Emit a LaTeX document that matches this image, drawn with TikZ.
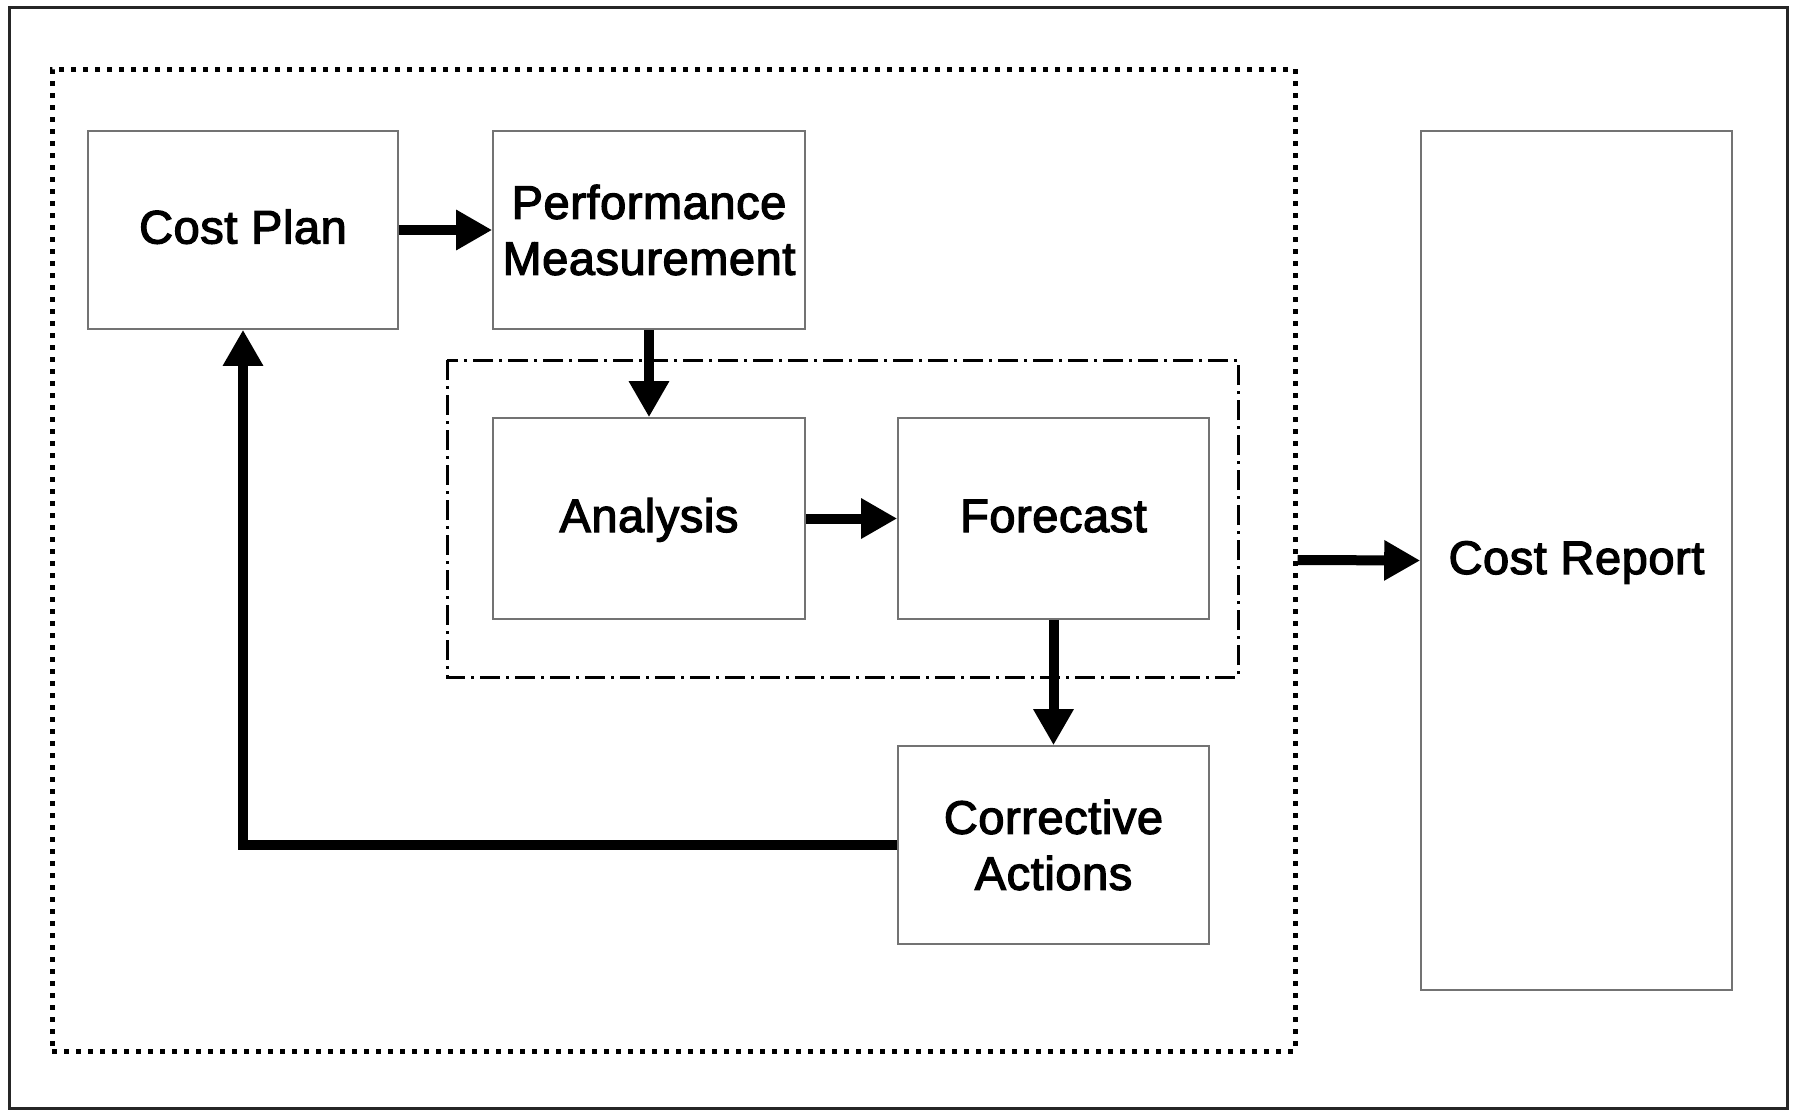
\documentclass[tikz,border=0pt]{standalone}
\usepackage{fontspec}
\newfontfamily\lblfont{Liberation Sans}[FakeBold=2.6,LetterSpace=1.2]
\usetikzlibrary{arrows.meta}
\tikzset{
  stepbox/.style={draw=black!55, line width=1.6pt, fill=white, inner sep=0pt,
    align=center, font=\lblfont\fontsize{47}{56}\selectfont},
  oneline/.style={text height=27pt, text depth=0pt},
  arr/.style={line width=10pt, draw=black, -{Triangle[length=36pt,width=38pt]}, line join=miter},
  grpbox/.style={draw=black, line width=5pt, dash pattern=on 5pt off 7pt, inner sep=0pt},
  dashdot/.style={draw=black, line width=3pt, dash pattern=on 20pt off 6pt on 3pt off 6pt},
  frame/.style={draw=black!85, line width=3pt}
}
\begin{document}
\begin{tikzpicture}[x=1pt,y=-1pt]
\useasboundingbox (0,0) rectangle (1797,1112);
\fill[white] (0,0) rectangle (1797,1112);
\draw[frame] (9,7) rectangle (1787,1108);
\node[grpbox, minimum width=1243pt, minimum height=982pt] (grp) at (673.5,560) {};
\draw[dashdot] (447,360) rectangle (1238,677);
\node[stepbox, oneline, minimum width=310pt, minimum height=198pt] (plan) at (243,230) {Cost Plan};
\node[stepbox, minimum width=312pt, minimum height=198pt] (perf) at (649,230) {Performance\\Measurement};
\node[stepbox, oneline, minimum width=312pt, minimum height=201pt] (anal) at (649,518.5) {Analysis};
\node[stepbox, oneline, minimum width=311pt, minimum height=201pt] (fore) at (1053.5,518.5) {Forecast};
\node[stepbox, minimum width=311pt, minimum height=198pt] (corr) at (1053.5,845) {Corrective\\Actions};
\node[stepbox, oneline, minimum width=311pt, minimum height=859pt] (report) at (1576.5,560.5) {Cost Report};
\draw[arr] (plan) -- (perf);
\draw[arr] (perf) -- (anal);
\draw[arr] (anal) -- (fore);
\draw[arr] (fore) -- (corr);
\draw[arr] (corr.west) -| (plan.south);
\draw[arr] (grp.east) -- (report.west);
\end{tikzpicture}
\end{document}
